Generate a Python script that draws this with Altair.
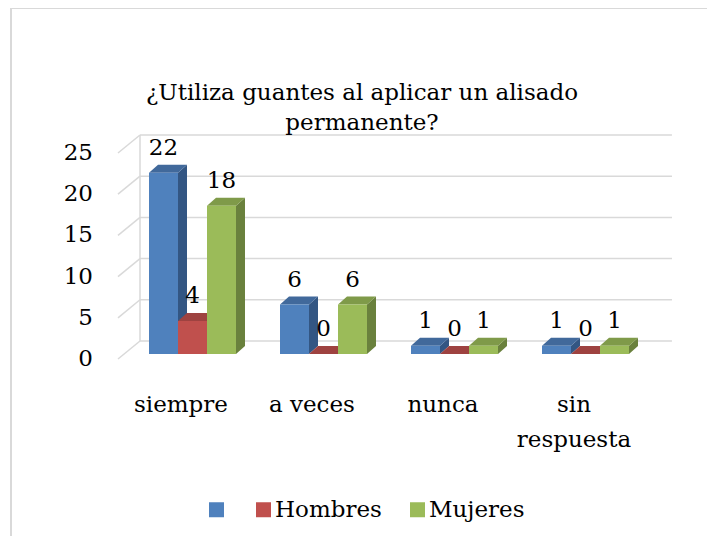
import altair as alt
import pandas as pd

# ---------------- data ----------------
CATEGORIES = ["siempre", "a veces", "nunca", "sin respuesta"]
CATEGORY_LABELS = ["siempre", "a veces", "nunca", "sin\nrespuesta"]
SERIES = ["Serie1", "Hombres", "Mujeres"]
SERIE1 = [22, 6, 1, 1]
HOMBRES = [4, 0, 0, 0]
MUJERES = [18, 6, 1, 1]
Y_TICKS = [0, 5, 10, 15, 20, 25]
TITLE = ["¿Utiliza guantes al aplicar un alisado", "permanente?"]

# ---------------- styles ----------------
FONT = "DejaVu Serif"
FS = 23
FRONT = ["#4F81BD", "#C0504D", "#9BBB59"]
TOP = ["#41699B", "#9E4240", "#7F9A49"]
SIDE = ["#335683", "#853735", "#6A813D"]
GRID = "#D9D9D9"

# geometry of the pseudo-3D projection (in scale units)
BW = 29 / 131          # bar width (x units, 1 unit = one category group)
DX = 9 / 131           # bar depth, x direction
DY = 8 / 8.24          # bar depth, y direction (value units)
WALL_X = -9 / 131      # back wall left edge
WALL_DY = 1.58         # back wall lift
FRONT_X = -31 / 131    # front edge of the floor / left wall
FRONT_DY = -0.607
GRID_END = 3.992
YLAB_X = -0.4275
CAT_X = 0.244
CAT_Y = -7.04

XS = alt.Scale(domain=[0, 1], range=[138, 269], nice=False, zero=False)
YS = alt.Scale(domain=[0, 25], range=[346, 140], nice=False, zero=False)

series_values = [SERIE1, HOMBRES, MUJERES]
bars, sides, tops = [], [], []
for i, cat in enumerate(CATEGORIES):
    for j, s in enumerate(SERIES):
        v = series_values[j][i]
        x0 = i + j * BW
        x1 = x0 + BW
        key = f"{i}-{j}"
        bars.append(dict(cat=cat, serie=s, v=v, zero=0, x0=x0, x1=x1,
                         xm=x0 + BW / 2, key=key))
        sides.append(dict(key=key, xs=x1, ylo=0, yhi=v, col=SIDE[j]))
        sides.append(dict(key=key, xs=x1 + DX, ylo=DY, yhi=v + DY, col=SIDE[j]))
        tops.append(dict(key=key, yy=v, xa=x0, xb=x1, col=TOP[j]))
        tops.append(dict(key=key, yy=v + DY, xa=x0 + DX, xb=x1 + DX, col=TOP[j]))

bars = pd.DataFrame(bars)
sides = pd.DataFrame(sides)
tops = pd.DataFrame(tops)

grid = pd.DataFrame(dict(
    t=Y_TICKS,
    lab=[str(t) for t in Y_TICKS],
    xl=WALL_X, xr=GRID_END, xf=FRONT_X, xlab=YLAB_X,
    yb=[t + WALL_DY for t in Y_TICKS],
    yf=[t + FRONT_DY for t in Y_TICKS],
))
wall = pd.DataFrame(dict(xl=[WALL_X], y0=[min(Y_TICKS) + WALL_DY],
                         y1=[max(Y_TICKS) + WALL_DY]))
cats = pd.DataFrame(dict(label=CATEGORY_LABELS,
                         xc=[i + CAT_X for i in range(len(CATEGORIES))],
                         yc=CAT_Y))

gridlines = alt.Chart(grid).mark_rule(color=GRID, strokeWidth=1.5).encode(
    x=alt.X("xl:Q", scale=XS, axis=None), x2="xr:Q",
    y=alt.Y("yb:Q", scale=YS, axis=None))
diag = alt.Chart(grid).mark_rule(color=GRID, strokeWidth=1.5).encode(
    x=alt.X("xf:Q", scale=XS, axis=None), x2="xl:Q",
    y=alt.Y("yf:Q", scale=YS, axis=None), y2="yb:Q")
wall_line = alt.Chart(wall).mark_rule(color=GRID, strokeWidth=1.5).encode(
    x=alt.X("xl:Q", scale=XS, axis=None),
    y=alt.Y("y0:Q", scale=YS, axis=None), y2="y1:Q")

side_faces = alt.Chart(sides).mark_area(orient="vertical", interpolate="linear").encode(
    x=alt.X("xs:Q", scale=XS, axis=None),
    y=alt.Y("ylo:Q", scale=YS, axis=None), y2="yhi:Q",
    color=alt.Color("col:N", scale=None), detail="key:N")
top_faces = alt.Chart(tops).mark_area(orient="horizontal", interpolate="linear").encode(
    y=alt.Y("yy:Q", scale=YS, axis=None),
    x=alt.X("xa:Q", scale=XS, axis=None), x2="xb:Q",
    color=alt.Color("col:N", scale=None), detail="key:N")
front_faces = alt.Chart(bars).mark_rect().encode(
    x=alt.X("x0:Q", scale=XS, axis=None), x2="x1:Q",
    y=alt.Y("v:Q", scale=YS, axis=None), y2="zero:Q",
    color=alt.Color("serie:N", scale=alt.Scale(domain=SERIES, range=FRONT),
                    legend=alt.Legend(
                        title=None, orient="none", direction="horizontal",
                        legendX=194, legendY=490, padding=0,
                        symbolType="square", symbolSize=225, symbolStrokeWidth=0,
                        symbolOpacity=1,
                        labelFont=FONT, labelFontSize=FS, labelColor="#000000",
                        labelOffset=0, columnPadding=24, labelLimit=300,
                        labelExpr="datum.label == 'Serie1' ? '' : datum.label")))
value_labels = alt.Chart(bars).mark_text(
    font=FONT, fontSize=FS, color="#000000", baseline="alphabetic", dy=-18
).encode(x=alt.X("xm:Q", scale=XS, axis=None),
         y=alt.Y("v:Q", scale=YS, axis=None), text="v:Q")
cat_labels = alt.Chart(cats).mark_text(
    font=FONT, fontSize=FS, color="#000000", baseline="alphabetic",
    lineBreak="\n", lineHeight=35
).encode(x=alt.X("xc:Q", scale=XS, axis=None),
         y=alt.Y("yc:Q", scale=YS, axis=None), text="label:N")
y_labels = alt.Chart(grid).mark_text(
    font=FONT, fontSize=FS, color="#000000", baseline="middle", align="right"
).encode(x=alt.X("xlab:Q", scale=XS, axis=None),
         y=alt.Y("yf:Q", scale=YS, axis=None), text="lab:N")
border = alt.Chart(wall).mark_rect(fill=None, stroke=GRID, strokeWidth=2).encode(
    x=alt.value(0), y=alt.value(0), x2=alt.value(900), y2=alt.value(900))

chart = alt.layer(
    gridlines, diag, wall_line, side_faces, top_faces, front_faces,
    value_labels, cat_labels, y_labels, border
).properties(
    width=696, height=528,
    padding={"left": 3, "top": 0, "right": 0, "bottom": 0},
    autosize=alt.AutoSizeParams(type="none"),
    title=alt.TitleParams(text=TITLE, font=FONT, fontSize=FS, fontWeight="normal",
                          color="#000000", anchor="middle", frame="group",
                          baseline="alphabetic", offset=-146, lineHeight=30, dx=3),
).configure_view(stroke=None)

chart.save("out.html", embed_options={"renderer": "svg", "actions": False})
